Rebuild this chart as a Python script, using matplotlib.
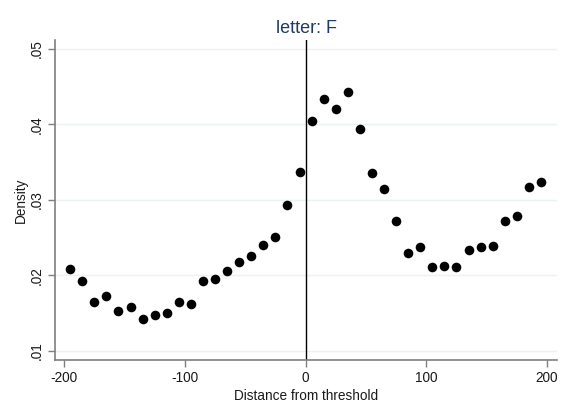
import matplotlib
matplotlib.use("Agg")
import matplotlib.pyplot as plt

plt.rcParams['font.family'] = ['Liberation Sans', 'DejaVu Sans']

distance = [-195, -185, -175, -165, -155, -145, -135, -125, -115, -105,
            -95, -85, -75, -65, -55, -45, -35, -25, -15, -5,
            5, 15, 25, 35, 45, 55, 65, 75, 85, 95,
            105, 115, 125, 135, 145, 155, 165, 175, 185, 195]
density = [0.0209, 0.0193, 0.0164, 0.0172, 0.0153, 0.0158, 0.0142, 0.0147, 0.0150, 0.0165,
           0.0162, 0.0193, 0.0195, 0.0206, 0.0218, 0.0226, 0.0240, 0.0251, 0.0293, 0.0337,
           0.0404, 0.0434, 0.0420, 0.0443, 0.0394, 0.0336, 0.0315, 0.0272, 0.0229, 0.0237,
           0.0211, 0.0212, 0.0211, 0.0234, 0.0237, 0.0239, 0.0272, 0.0278, 0.0317, 0.0324]
xticks = [-200, -100, 0, 100, 200]
yticks = [0.01, 0.02, 0.03, 0.04, 0.05]
ytick_labels = ['.01', '.02', '.03', '.04', '.05']

fig = plt.figure(figsize=(5.71, 4.17), dpi=100)
ax = fig.add_axes([55.3/571, 1-360/417, (557-55.3)/571, (360-40)/417])

ax.set_xlim(-207.3, 208.3)
ax.set_ylim(0.00877, 0.0512)

for y in yticks:
    ax.axhline(y, color='#eaf2f3', lw=1.0, zorder=0)
ax.axvline(0, color='black', lw=1.0, zorder=1)

ax.scatter(distance, density, s=48, color='black', zorder=3, linewidths=0)

ax.set_xticks(xticks)
ax.set_xticklabels([str(t) for t in xticks])
ax.set_yticks(yticks)
ax.set_yticklabels(ytick_labels, rotation=90, va='center')

for side in ['top', 'right']:
    ax.spines[side].set_visible(False)
for side in ['left', 'bottom']:
    ax.spines[side].set_color('#7f7f7f')
    ax.spines[side].set_linewidth(1.2)

ax.tick_params(axis='both', direction='out', length=5, width=1.0, color='#7f7f7f',
               labelsize=9.8, labelcolor='#1a1a1a', pad=3)

ax.set_xlabel('Distance from threshold', fontsize=9.8, color='#1a1a1a', labelpad=2.5)
ax.set_ylabel('Density', fontsize=9.8, color='#1a1a1a', labelpad=2)
ax.set_title('letter: F', fontsize=13, color='#1e3a68', pad=5)

fig.savefig('out.png', dpi=100, facecolor='white')
